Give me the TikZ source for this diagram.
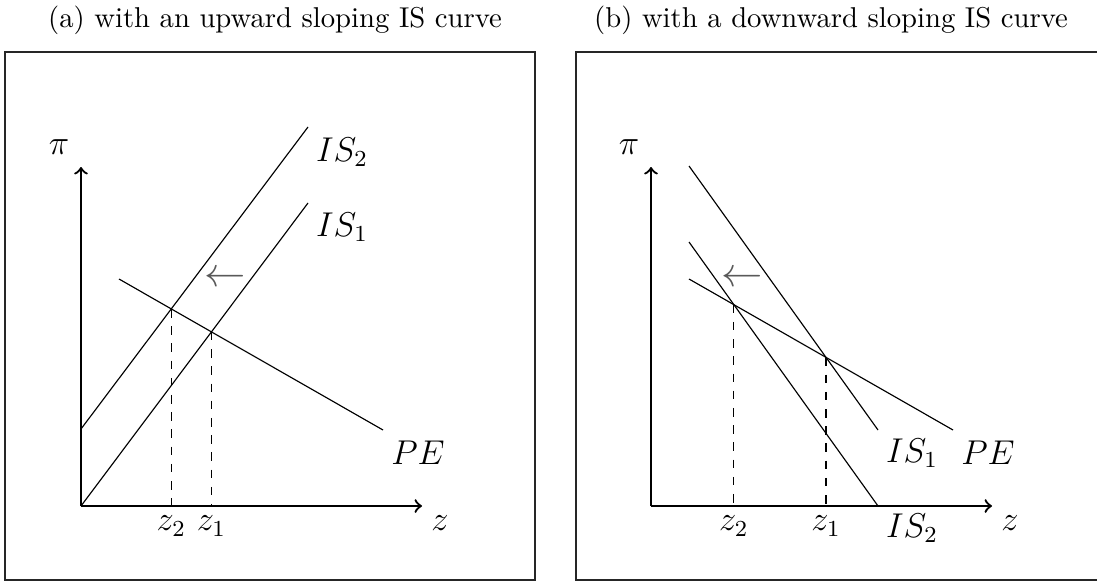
\documentclass[tikz,border=0pt]{standalone}
\usetikzlibrary{intersections}
\begin{document}
\begin{tikzpicture}[
        x=0.01225cm, y=-0.01225cm,
        frame/.style={draw=black!85, line width=0.6pt},
        axis/.style={->, thick},
        curve/.style={line width=0.4pt},
        drop/.style={dashed, line width=0.4pt},
        lbl/.style={font=\large},
        shiftarr/.style={text=black!65, font=\Large}
    ]
    \useasboundingbox (0,0) rectangle (1097,581);
    % (a) upward sloping IS
    \node (capa) at (275,20) {(a) with an upward sloping IS curve};
    \draw[frame] (5,52) rectangle (535,580);
    \coordinate (oa) at (81,506);
    \draw[axis] (oa) -- (81,167);
    \draw[axis] (oa) -- (422,506);
    \node[lbl] (pia) at (59,147) {$\pi$};
    \node[lbl] (za) at (440,523) {$z$};
    \draw[curve, name path=is1a] (oa) -- (308,203);
    \draw[curve, name path=is2a] (81,429) -- (308,127);
    \draw[curve, name path=pea] (119,279) -- (383,430);
    \node[lbl] (is2la) at (342,152) {$IS_2$};
    \node[lbl] (is1la) at (342,227) {$IS_1$};
    \node[lbl] (pela) at (418,453) {$PE$};
    \node[shiftarr] (arra) at (225,279) {$\leftarrow$};
    \path[name intersections={of=is1a and pea, by=e1a}];
    \path[name intersections={of=is2a and pea, by=e2a}];
    \draw[drop] (e1a) -- (e1a |- oa) node[lbl, below] (z1a) {$z_1$};
    \draw[drop] (e2a) -- (e2a |- oa) node[lbl, below] (z2a) {$z_2$};
    % (b) downward sloping IS, frame runs past the right edge
    \node (capb) at (831,20) {(b) with a downward sloping IS curve};
    \draw[frame] (1100,52) -- (576,52) -- (576,580) -- (1100,580);
    \coordinate (ob) at (651,506);
    \draw[axis] (ob) -- (651,167);
    \draw[axis] (ob) -- (992,506);
    \node[lbl] (pib) at (629,147) {$\pi$};
    \node[lbl] (zb) at (1010,523) {$z$};
    \draw[curve, name path=is1b] (689,166) -- (878,430);
    \draw[curve, name path=is2b] (689,242) -- (878,506);
    \draw[curve, name path=peb] (689,279) -- (953,430);
    \node[lbl] (is1lb) at (912,453) {$IS_1$};
    \node[lbl] (pelb) at (988,453) {$PE$};
    \node[lbl] (is2lb) at (912,528) {$IS_2$};
    \node[shiftarr] (arrb) at (742,279) {$\leftarrow$};
    \path[name intersections={of=is1b and peb, by=e1b}];
    \path[name intersections={of=is2b and peb, by=e2b}];
    \draw[drop] (e1b) -- (e1b |- ob) node[lbl, below] (z1b) {$z_1$};
    \draw[drop] (e2b) -- (e2b |- ob) node[lbl, below] (z2b) {$z_2$};
\end{tikzpicture}
\end{document}
